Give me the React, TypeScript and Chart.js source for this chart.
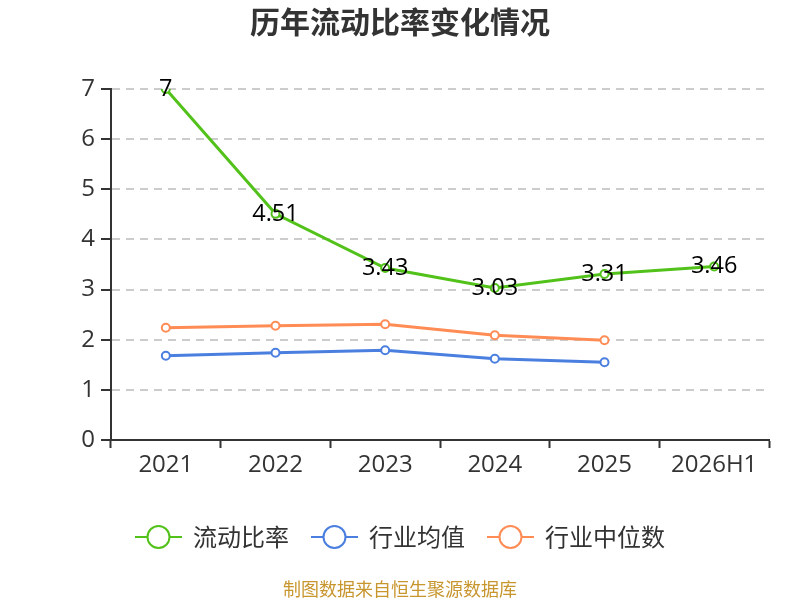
import React, { useEffect, useRef } from "react";
import { Chart, registerables } from "chart.js";

Chart.register(...registerables);

const categories = ["2021", "2022", "2023", "2024", "2025", "2026H1"];
const currentRatio = [7, 4.51, 3.43, 3.03, 3.31, 3.46];
const industryMean = [1.68, 1.74, 1.79, 1.62, 1.55, null];
const industryMedian = [2.24, 2.28, 2.31, 2.09, 1.99, null];
const yTicks = [0, 1, 2, 3, 4, 5, 6, 7];

const seriesNames = ["流动比率", "行业均值", "行业中位数"];
const seriesColors = ["#52c21a", "#4a7fe0", "#ff8c55"];

const titleText = "历年流动比率变化情况";
const footerText = "制图数据来自恒生聚源数据库";

const FONT = "'Open Sans', 'Noto Sans CJK SC', sans-serif";
const CJK = "'Noto Sans CJK SC', 'Open Sans', sans-serif";

const decorPlugin = {
  id: "decor",
  afterDraw(chart: any) {
    const ctx = chart.ctx as CanvasRenderingContext2D;
    ctx.save();
    // title
    ctx.fillStyle = "#333";
    ctx.font = `bold 30px ${CJK}`;
    ctx.textAlign = "center";
    ctx.textBaseline = "middle";
    ctx.fillText(titleText, 400, 22);

    // data labels for first dataset
    const meta = chart.getDatasetMeta(0);
    ctx.font = `23.5px ${FONT}`;
    ctx.fillStyle = "#000";
    meta.data.forEach((pt: any, i: number) => {
      const v = currentRatio[i];
      if (v == null) return;
      ctx.fillText(String(v), pt.x, pt.y);
    });

    // legend
    ctx.font = `24px ${CJK}`;
    const iconW = 47;
    const gapText = 11;
    const gapItem = 22;
    const widths = seriesNames.map((n) => ctx.measureText(n).width);
    let total = 0;
    widths.forEach((w, i) => {
      total += iconW + gapText + w + (i < widths.length - 1 ? gapItem : 0);
    });
    let x = 400 - total / 2;
    const ly = 537;
    seriesNames.forEach((n, i) => {
      ctx.strokeStyle = seriesColors[i];
      ctx.lineWidth = 2;
      ctx.beginPath();
      ctx.moveTo(x, ly);
      ctx.lineTo(x + iconW, ly);
      ctx.stroke();
      ctx.beginPath();
      ctx.arc(x + iconW / 2, ly, 11, 0, Math.PI * 2);
      ctx.fillStyle = "#fff";
      ctx.fill();
      ctx.stroke();
      ctx.fillStyle = "#333";
      ctx.textAlign = "left";
      ctx.fillText(n, x + iconW + gapText, ly);
      x += iconW + gapText + widths[i] + gapItem;
    });

    // footer
    ctx.textAlign = "center";
    ctx.font = `18px ${CJK}`;
    ctx.fillStyle = "#c8962e";
    ctx.fillText(footerText, 400, 589);
    ctx.restore();
  },
};

export default function App() {
  const ref = useRef<HTMLCanvasElement | null>(null);
  useEffect(() => {
    if (!ref.current) return;
    const mk = (label: string, data: any[], color: string) => ({
      label,
      data,
      borderColor: color,
      backgroundColor: "#fff",
      borderWidth: 3,
      pointRadius: 4,
      pointBorderWidth: 2,
      pointBackgroundColor: "#fff",
      pointBorderColor: color,
      tension: 0,
      spanGaps: false,
    });
    const chart = new Chart(ref.current, {
      type: "line",
      data: {
        labels: categories,
        datasets: [
          mk(seriesNames[0], currentRatio, seriesColors[0]),
          mk(seriesNames[1], industryMean, seriesColors[1]),
          mk(seriesNames[2], industryMedian, seriesColors[2]),
        ],
      },
      options: {
        responsive: false,
        animation: false,
        devicePixelRatio: 1,
        layout: { padding: { left: 0, right: 31, top: 89, bottom: 0 } },
        plugins: {
          legend: { display: false },
          title: { display: false },
          tooltip: { enabled: false },
        },
        scales: {
          x: {
            type: "category",
            offset: true,
            grid: {
              display: true,
              drawOnChartArea: false,
              drawTicks: true,
              tickLength: 8,
              tickColor: "#333",
              tickWidth: 2,
              offset: true,
            },
            border: { display: true, color: "#333", width: 2 },
            ticks: {
              color: "#333",
              font: { size: 24, family: FONT },
              padding: 3,
              maxRotation: 0,
              autoSkip: false,
            },
            afterFit: (s: any) => {
              s.height = 160;
            },
          },
          y: {
            min: 0,
            max: 7,
            afterBuildTicks: (s: any) => {
              s.ticks = yTicks.map((v) => ({ value: v }));
            },
            grid: {
              color: "#cccccc",
              lineWidth: 2,
              drawTicks: true,
              tickLength: 10,
              tickColor: "#333",
              tickWidth: 2,
              tickBorderDash: [],
            },
            border: { display: true, color: "#333", width: 2, dash: [8, 6] },
            ticks: {
              color: "#333",
              font: { size: 24, family: FONT },
              padding: 6,
              callback: (v: any) => String(v),
            },
            afterFit: (s: any) => {
              s.width = 111;
            },
          },
        },
      },
      plugins: [decorPlugin],
    } as any);
    return () => chart.destroy();
  }, []);
  return (
    <div style={{ position: "fixed", left: 0, top: 0, width: 800, height: 600, background: "#fff" }}>
      <canvas ref={ref} width={800} height={600} style={{ width: 800, height: 600 }} />
    </div>
  );
}
